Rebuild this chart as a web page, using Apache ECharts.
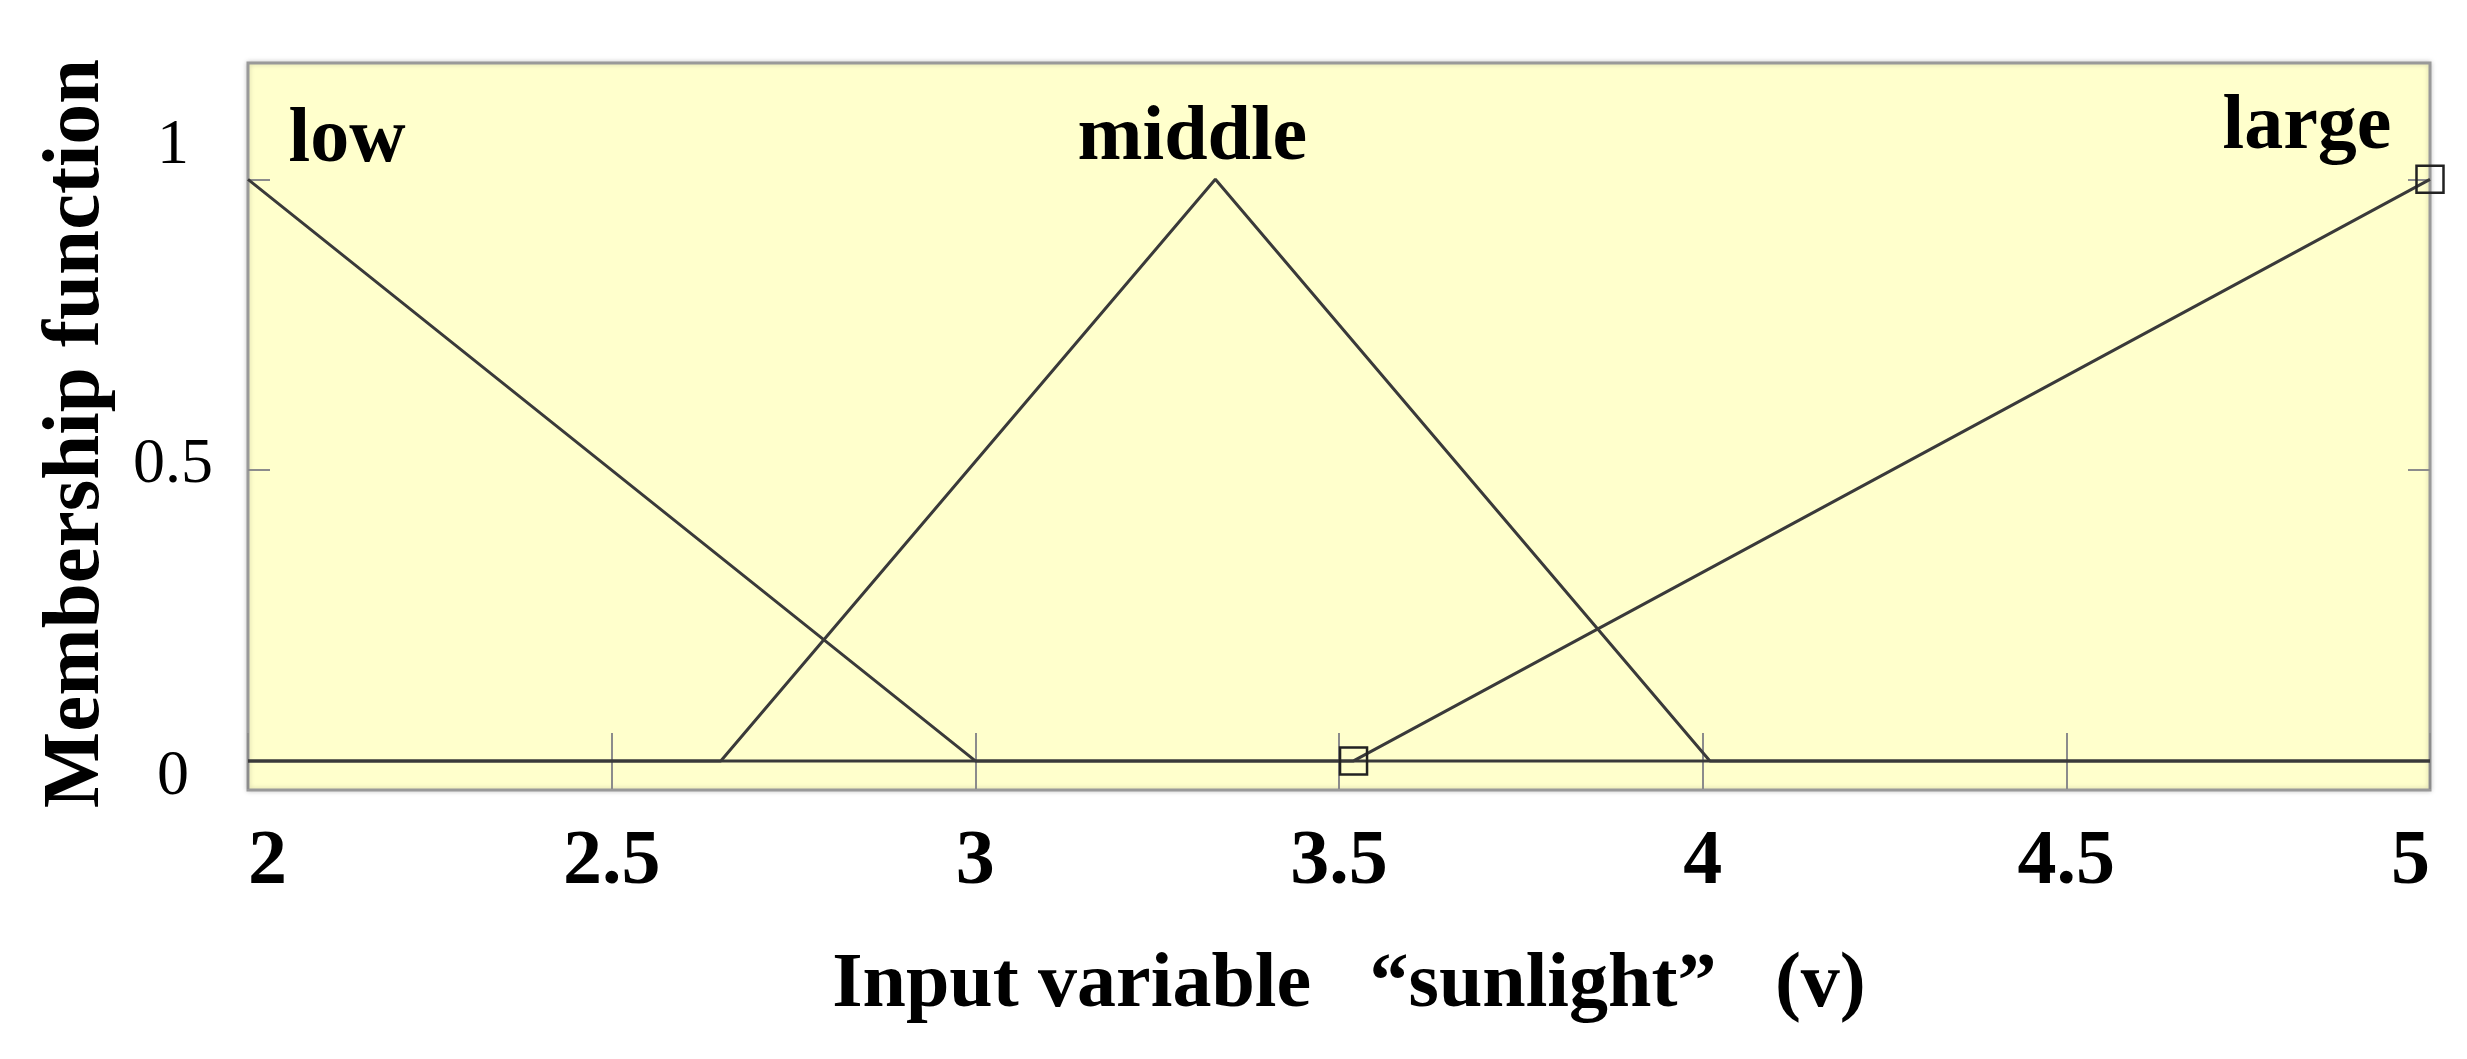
<!DOCTYPE html>
<html>
<head>
<meta charset="utf-8">
<script src="https://cdn.jsdelivr.net/npm/echarts@6/dist/echarts.min.js"></script>
<style>
html,body{margin:0;padding:0;background:#fff;}
#chart{width:2467px;height:1059px;}
</style>
</head>
<body>
<div id="chart"></div>
<script>
// ---- data ----
const mfNames = ['low', 'middle', 'large'];
const lowPoints = [[2, 1], [3, 0], [5, 0]];
const middlePoints = [[2, 0], [2.65, 0], [3.33, 1], [4.01, 0], [5, 0]];
const largePoints = [[2, 0], [3.52, 0], [5, 1]];
const xMin = 2, xMax = 5, xStep = 0.5;
const yMin = -0.05, yMax = 1.2;
const yTickValues = [0, 0.5, 1];
const xTitle = 'Input variable \u2002\u201Csunlight\u201D\u2002 (v)';
const yTitle = 'Membership function';

const FONT = '"Liberation Serif", "Times New Roman", serif';
const LINE = '#3a3a3a';
const TICK = '#8c8c8c';

const chart = echarts.init(document.getElementById('chart'));

function mfLabel(name, coord, offset) {
  return {
    silent: true,
    symbol: 'circle',
    symbolSize: 1,
    itemStyle: { color: 'transparent' },
    label: {
      show: true,
      position: 'inside',
      formatter: name,
      offset: offset,
      fontFamily: FONT,
      fontWeight: 'bold',
      fontSize: 78,
      color: '#000'
    },
    data: [{ coord: coord }]
  };
}

const option = {
  animation: false,
  backgroundColor: '#ffffff',
  grid: {
    left: 248, right: 37, top: 63, bottom: 269,
    show: true,
    backgroundColor: '#ffffcc',
    borderColor: '#999999',
    borderWidth: 3,
    shadowColor: 'rgba(0,0,0,0.18)',
    shadowBlur: 5
  },
  xAxis: [
    {
      type: 'value', position: 'bottom',
      min: xMin, max: xMax, interval: xStep,
      axisLine: { show: false },
      splitLine: { show: false },
      axisTick: { show: true, inside: true, length: 28, lineStyle: { color: TICK, width: 2 } },
      axisLabel: {
        show: true, margin: 34,
        fontFamily: FONT, fontWeight: 'bold', fontSize: 78, color: '#000',
        alignMinLabel: 'left', alignMaxLabel: 'right'
      },
      name: xTitle,
      nameLocation: 'middle',
      nameGap: 157,
      nameTextStyle: {
        fontFamily: FONT, fontWeight: 'bold', fontSize: 78, color: '#000',
        padding: [0, 0, 0, 20]
      }
    },
    {
      type: 'value', position: 'top',
      min: xMin, max: xMax, interval: xStep,
      axisLine: { show: false },
      splitLine: { show: false },
      axisTick: { show: true, inside: true, length: 28, lineStyle: { color: TICK, width: 2 } },
      axisLabel: { show: false }
    }
  ],
  yAxis: [
    {
      type: 'value', position: 'left',
      min: yMin, max: yMax,
      axisLine: { show: false },
      splitLine: { show: false },
      axisTick: { show: true, inside: true, length: 22, customValues: yTickValues,
                  lineStyle: { color: TICK, width: 2 } },
      axisLabel: {
        show: true, margin: 75, align: 'center',
        customValues: yTickValues,
        fontFamily: FONT, fontSize: 64, color: '#000',
        formatter: function (v) {
          if (v === 1) return '{up|1}';
          if (v === 0) return '{dn|0}';
          return '{mid|' + v + '}';
        },
        rich: {
          up: { fontFamily: FONT, fontSize: 64, color: '#000', padding: [0, 0, 66, 0] },
          mid: { fontFamily: FONT, fontSize: 64, color: '#000', padding: [0, 0, 10, 0] },
          dn: { fontFamily: FONT, fontSize: 64, color: '#000', padding: [32, 0, 0, 0] }
        }
      },
      name: yTitle,
      nameLocation: 'middle',
      nameGap: 130,
      nameRotate: 90,
      nameTextStyle: {
        fontFamily: FONT, fontWeight: 'bold', fontSize: 81, color: '#000',
        padding: [0, 14, 0, 0]
      }
    },
    {
      type: 'value', position: 'right',
      min: yMin, max: yMax,
      axisLine: { show: false },
      splitLine: { show: false },
      axisTick: { show: true, inside: true, length: 22, customValues: yTickValues,
                  lineStyle: { color: TICK, width: 2 } },
      axisLabel: { show: false }
    }
  ],
  series: [
    {
      name: mfNames[0], type: 'line', xAxisIndex: 0, yAxisIndex: 0,
      data: lowPoints, showSymbol: false, symbol: 'none',
      lineStyle: { color: LINE, width: 3 },
      markPoint: mfLabel(mfNames[0], lowPoints[0], [99, -38])
    },
    {
      name: mfNames[1], type: 'line', xAxisIndex: 0, yAxisIndex: 0,
      data: middlePoints, showSymbol: false, symbol: 'none',
      lineStyle: { color: LINE, width: 3 },
      markPoint: mfLabel(mfNames[1], middlePoints[2], [-23, -40])
    },
    {
      name: mfNames[2], type: 'line', xAxisIndex: 0, yAxisIndex: 0,
      data: largePoints, showSymbol: true,
      symbol: function (value, params) { return params.dataIndex === 0 ? 'none' : 'rect'; },
      symbolSize: 27,
      itemStyle: { color: 'rgba(0,0,0,0)', borderColor: '#222', borderWidth: 2.5 },
      lineStyle: { color: LINE, width: 3 },
      markPoint: mfLabel(mfNames[2], largePoints[2], [-123, -51])
    }
  ]
};

chart.setOption(option);
</script>
</body>
</html>
